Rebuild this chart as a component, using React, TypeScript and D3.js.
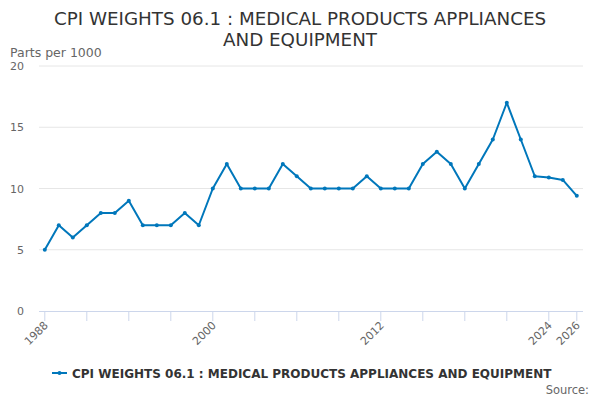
import React from "react";
import * as d3 from "d3";

const years: number[] = [
  1988, 1989, 1990, 1991, 1992, 1993, 1994, 1995, 1996, 1997, 1998, 1999, 2000,
  2001, 2002, 2003, 2004, 2005, 2006, 2007, 2008, 2009, 2010, 2011, 2012, 2013,
  2014, 2015, 2016, 2017, 2018, 2019, 2020, 2021, 2022, 2023, 2024, 2025, 2026,
];
const values: number[] = [
  5, 7, 6, 7, 8, 8, 9, 7, 7, 7, 8, 7, 10,
  12, 10, 10, 10, 12, 11, 10, 10, 10, 10, 11, 10, 10,
  10, 12, 13, 12, 10, 12, 14, 17, 14, 11, 10.9, 10.7, 9.4,
];
const yTicks: number[] = [0, 5, 10, 15, 20];
const xTicks: number[] = [1988, 1991, 1994, 1997, 2000, 2003, 2006, 2009, 2012, 2015, 2018, 2021, 2024, 2026];
const xLabels: number[] = [1988, 2000, 2012, 2024, 2026];
const titleLines: string[] = ["CPI WEIGHTS 06.1 : MEDICAL PRODUCTS APPLIANCES", "AND EQUIPMENT"];
const seriesName = "CPI WEIGHTS 06.1 : MEDICAL PRODUCTS APPLIANCES AND EQUIPMENT";
const yAxisTitle = "Parts per 1000";

const font = "'DejaVu Sans', sans-serif";
const color = "#0077bb";

export default function App() {
  const W = 600, H = 400;
  const plotLeft = 39, plotRight = 583, plotTop = 66, plotBottom = 311;
  const x = d3.scaleLinear().domain([1988, 2026]).range([44.8, 576.8]);
  const y = d3.scaleLinear().domain([0, 20]).range([plotBottom, plotTop]);
  const line = d3.line<number>().x((_, i) => x(years[i])).y((d) => y(d));

  return (
    <svg width={W} height={H} style={{ position: "absolute", left: 0, top: 0, fontFamily: font }}>
      <rect width={W} height={H} fill="#fff" />
      {titleLines.map((t, i) => (
        <text key={i} x={300} y={24.5 + i * 21} textAnchor="middle" fontSize={18.3} fill="#333">{t}</text>
      ))}
      <text x={10} y={57} fontSize={12.5} fill="#666">{yAxisTitle}</text>
      {yTicks.map((t) => (
        <g key={t}>
          {t !== 0 && <line x1={plotLeft} x2={plotRight} y1={y(t)} y2={y(t)} stroke="#e6e6e6" strokeWidth={1} />}
          <text x={24} y={y(t) + 4} textAnchor="end" fontSize={11} fill="#666">{t}</text>
        </g>
      ))}
      <line x1={plotLeft} x2={plotRight} y1={plotBottom + 0.5} y2={plotBottom + 0.5} stroke="#ccd6eb" strokeWidth={1} />
      {xTicks.map((t) => (
        <line key={t} x1={x(t)} x2={x(t)} y1={plotBottom} y2={plotBottom + 10} stroke="#ccd6eb" strokeWidth={1} />
      ))}
      {xLabels.map((t) => (
        <text key={t} transform={`translate(${x(t) + 4},${plotBottom + 15}) rotate(-45)`} textAnchor="end" fontSize={11} fill="#666">{t}</text>
      ))}
      <path d={line(values) ?? ""} fill="none" stroke={color} strokeWidth={2} strokeLinejoin="round" strokeLinecap="round" />
      {values.map((v, i) => (
        <circle key={i} cx={x(years[i])} cy={y(v)} r={2} fill={color} />
      ))}
      <line x1={52} x2={67} y1={373} y2={373} stroke={color} strokeWidth={2} />
      <circle cx={59.5} cy={373} r={2} fill={color} />
      <text x={72} y={377.5} fontSize={12} fontWeight="bold" fill="#333">{seriesName}</text>
      <text x={589} y={394} textAnchor="end" fontSize={11.5} fill="#666">Source:</text>
    </svg>
  );
}
